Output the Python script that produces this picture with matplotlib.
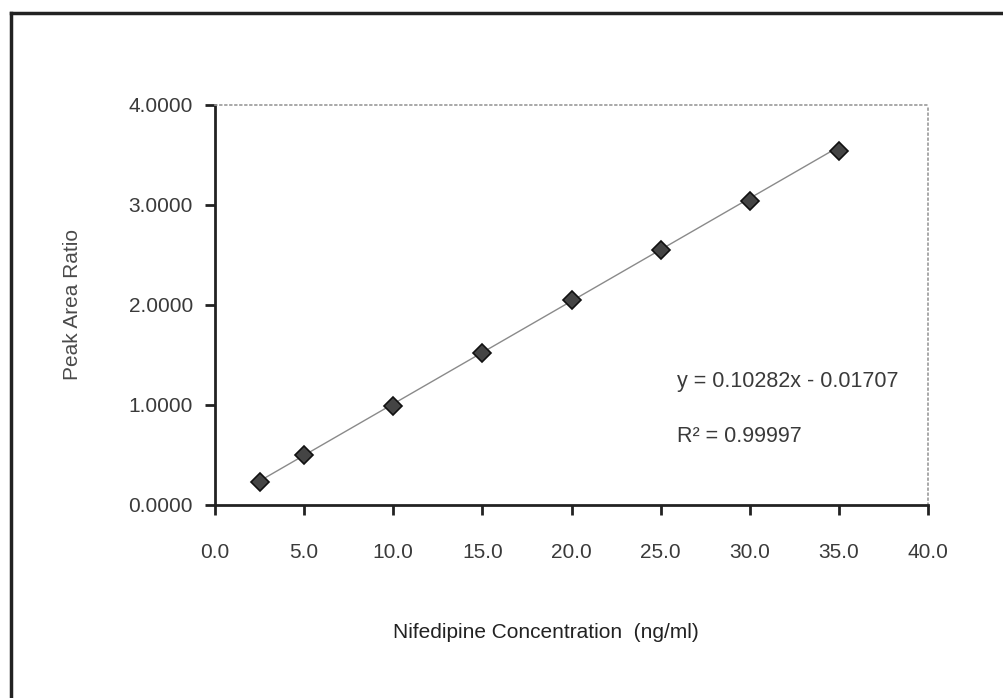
import matplotlib
matplotlib.use("Agg")
import matplotlib.pyplot as plt
from matplotlib.lines import Line2D

plt.rcParams['font.family'] = ['Liberation Sans', 'DejaVu Sans']

concentration = [2.5, 5.0, 10.0, 15.0, 20.0, 25.0, 30.0, 35.0]
peak_area_ratio = [0.23, 0.50, 0.99, 1.52, 2.05, 2.55, 3.04, 3.54]
slope = 0.10282
intercept = -0.01707
x_ticks = [0, 5, 10, 15, 20, 25, 30, 35, 40]
x_tick_labels = ["0.0", "5.0", "10.0", "15.0", "20.0", "25.0", "30.0", "35.0", "40.0"]
y_ticks = [0, 1, 2, 3, 4]
y_tick_labels = ["0.0000", "1.0000", "2.0000", "3.0000", "4.0000"]
equation_text = "y = 0.10282x - 0.01707"
r2_text = "R² = 0.99997"

W, H = 1004, 698
fig = plt.figure(figsize=(W / 100, H / 100), dpi=100)
ax = fig.add_axes([215 / W, 1 - 505 / H, (928 - 215) / W, (505 - 105) / H])

text_color = '#3a3a3a'
fs = 15

# trendline
x0, x1 = min(concentration), max(concentration)
ax.plot([x0, x1], [slope * x0 + intercept, slope * x1 + intercept],
        color='#8a8a8a', lw=1.0, zorder=2)
ax.plot(concentration, peak_area_ratio, linestyle='none', marker='D',
        markersize=9, markerfacecolor='#444444', markeredgecolor='#111111',
        markeredgewidth=1.2, zorder=3)

ax.set_xlim(0, 40)
ax.set_ylim(0, 4)
ax.set_xticks(x_ticks)
ax.set_xticklabels(x_tick_labels)
ax.set_yticks(y_ticks)
ax.set_yticklabels(y_tick_labels)

for s in ['left', 'bottom']:
    ax.spines[s].set_color('#222222')
    ax.spines[s].set_linewidth(2.0)
for s in ['top', 'right']:
    ax.spines[s].set_color('#999999')
    ax.spines[s].set_linewidth(1.2)
    ax.spines[s].set_linestyle((0, (1, 2)))

ax.tick_params(axis='y', direction='out', length=7, width=2, color='#222222',
               labelsize=fs, labelcolor=text_color, pad=9)
ax.tick_params(axis='x', direction='out', length=7, width=2, color='#222222',
               labelsize=fs, labelcolor=text_color, pad=20)

fig.text(73 / W, 1 - 305 / H, "Peak Area Ratio", rotation=90,
         ha='center', va='center', fontsize=fs, color='#4a4a4a')

fig.text(546 / W, 1 - 633 / H, "Nifedipine Concentration  (ng/ml)",
         ha='center', va='center', fontsize=fs, color='#222222')

fig.text(677 / W, 1 - 381 / H, equation_text, ha='left', va='center',
         fontsize=15.5, color=text_color)
fig.text(677 / W, 1 - 436 / H, r2_text, ha='left', va='center',
         fontsize=15.5, color=text_color)

# scanned outer frame (top and left edges)
fig.add_artist(Line2D([11 / W, 1.0], [1 - 13 / H, 1 - 13 / H],
                      transform=fig.transFigure, color='#222222', lw=2.5))
fig.add_artist(Line2D([11 / W, 11 / W], [1 - 13 / H, 0.0],
                      transform=fig.transFigure, color='#222222', lw=2.5))

fig.savefig("out.png", dpi=100, facecolor='white')
